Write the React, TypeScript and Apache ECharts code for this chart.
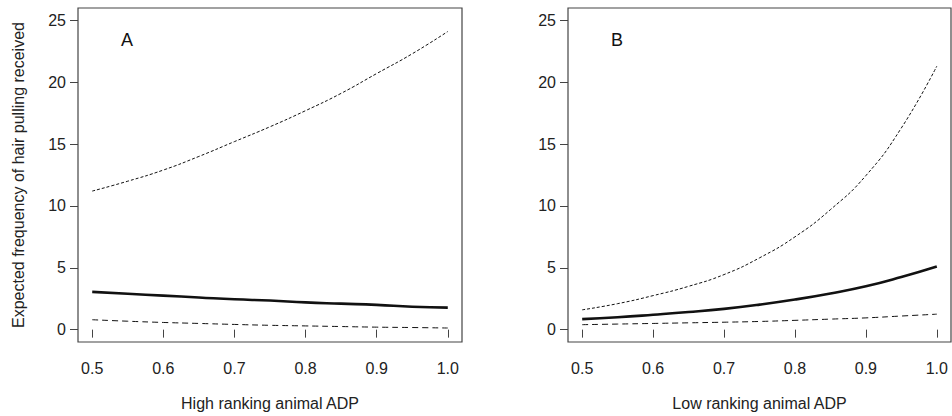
import React, { useEffect, useRef } from "react";
import * as echarts from "echarts";

// ADP values along the horizontal axis (both panels)
const adp = [0.5, 0.55, 0.6, 0.65, 0.7, 0.75, 0.8, 0.85, 0.9, 0.95, 1.0];

// Panel A: high ranking animal
const highUpper = [11.2, 12.0, 12.9, 14.0, 15.2, 16.4, 17.7, 19.1, 20.7, 22.3, 24.1];
const highFit = [3.05, 2.9, 2.75, 2.6, 2.45, 2.35, 2.2, 2.1, 2.0, 1.85, 1.78];
const highLower = [0.8, 0.68, 0.58, 0.5, 0.42, 0.35, 0.3, 0.25, 0.2, 0.17, 0.13];

// Panel B: low ranking animal
const lowUpper = [1.6, 2.1, 2.75, 3.5, 4.45, 5.8, 7.5, 9.7, 12.45, 16.3, 21.3];
const lowFit = [0.85, 1.0, 1.2, 1.42, 1.68, 2.02, 2.43, 2.92, 3.5, 4.25, 5.1];
const lowLower = [0.4, 0.45, 0.5, 0.55, 0.6, 0.66, 0.75, 0.85, 0.95, 1.1, 1.25];

const xTicks = [0.5, 0.6, 0.7, 0.8, 0.9, 1.0];
const yTicks = [0, 5, 10, 15, 20, 25];

const panelLetters = ["A", "B"];
const xTitles = ["High ranking animal ADP", "Low ranking animal ADP"];
const yTitle = "Expected frequency of hair pulling received";

const FONT = "Liberation Sans, Arial, sans-serif";
const TEXT = "#222";
const FRAME = "#444";

const pairs = (ys: number[]) => adp.map((x, i) => [x, ys[i]]);

export default function App() {
  const ref = useRef<HTMLDivElement>(null);

  useEffect(() => {
    if (!ref.current) return;
    const chart = echarts.init(ref.current, null, { renderer: "svg" });

    const grids = [
      { left: 78, top: 8, width: 384, height: 334 },
      { left: 568, top: 8, width: 383, height: 334 },
    ];

    const xAxis = [0, 1].map((i) => ({
      type: "value",
      gridIndex: i,
      min: 0.48,
      max: 1.02,
      name: xTitles[i],
      nameLocation: "middle",
      nameGap: 53,
      nameTextStyle: { fontFamily: FONT, fontSize: 16, color: TEXT },
      axisLine: { show: false },
      splitLine: { show: false },
      axisTick: {
        show: true,
        length: 8,
        customValues: xTicks,
        lineStyle: { color: FRAME, width: 1 },
      },
      axisLabel: {
        customValues: xTicks,
        formatter: (v: number) => v.toFixed(1),
        fontFamily: FONT,
        fontSize: 16,
        color: TEXT,
        margin: 18,
      },
    }));

    const yAxis = [0, 1].map((i) => ({
      type: "value",
      gridIndex: i,
      min: -1,
      max: 26,
      name: i === 0 ? yTitle : "",
      nameLocation: "middle",
      nameGap: 52,
      nameTextStyle: { fontFamily: FONT, fontSize: 16, color: TEXT },
      axisLine: { show: false },
      splitLine: { show: false },
      axisTick: {
        show: true,
        length: 8,
        customValues: yTicks,
        lineStyle: { color: FRAME, width: 1 },
      },
      axisLabel: {
        customValues: yTicks,
        fontFamily: FONT,
        fontSize: 16,
        color: TEXT,
        margin: 12,
      },
    }));

    const line = (
      idx: number,
      name: string,
      ys: number[],
      width: number,
      type: any
    ) => ({
      type: "line",
      name,
      xAxisIndex: idx,
      yAxisIndex: idx,
      data: pairs(ys),
      smooth: true,
      showSymbol: false,
      symbol: "none",
      lineStyle: { color: "#111", width, type },
      z: 3,
    });

    chart.setOption({
      animation: false,
      backgroundColor: "#fff",
      grid: grids.map((g) => ({
        ...g,
        show: true,
        borderColor: FRAME,
        borderWidth: 1.2,
        backgroundColor: "transparent",
      })),
      xAxis,
      yAxis,
      series: [
        line(0, "upper", highUpper, 1, [3, 2]),
        line(0, "fit", highFit, 2.6, "solid"),
        line(0, "lower", highLower, 1, [6, 4]),
        line(1, "upper", lowUpper, 1, [3, 2]),
        line(1, "fit", lowFit, 2.6, "solid"),
        line(1, "lower", lowLower, 1, [6, 4]),
      ],
      graphic: [
        {
          type: "text",
          left: 121,
          top: 31,
          style: { text: panelLetters[0], font: `18px ${FONT}`, fill: "#111" },
        },
        {
          type: "text",
          left: 611,
          top: 31,
          style: { text: panelLetters[1], font: `18px ${FONT}`, fill: "#111" },
        },
      ],
    });

    return () => chart.dispose();
  }, []);

  return (
    <div
      ref={ref}
      style={{ position: "fixed", left: 0, top: 0, width: 952, height: 416 }}
    />
  );
}
